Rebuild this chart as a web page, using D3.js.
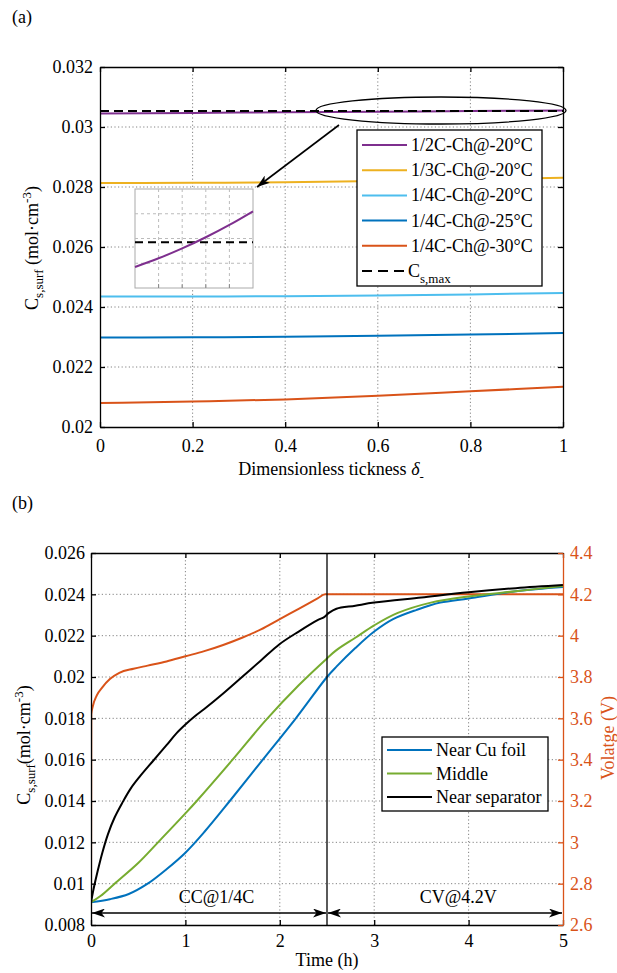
<!DOCTYPE html>
<html><head><meta charset="utf-8">
<script src="https://cdn.jsdelivr.net/npm/d3@7/dist/d3.min.js"></script>
<style>body{margin:0;background:#fff}svg{display:block}svg text{font-family:'Liberation Serif','DejaVu Serif',serif}</style>
</head><body><svg id="c" width="617" height="973" font-family="Liberation Serif, DejaVu Serif, serif"></svg>
<script>
// ---------- Panel (a) data ----------
const deltaX = [0, 0.2, 0.4, 0.6, 0.8, 1];
const half20 = [0.03045, 0.03047, 0.03049, 0.03051, 0.03053, 0.03055];
const third20 = [0.02813, 0.02814, 0.02816, 0.02820, 0.02825, 0.02831];
const quarter20 = [0.02435, 0.02435, 0.02436, 0.02438, 0.02442, 0.02447];
const quarter25 = [0.02298, 0.02299, 0.02301, 0.02304, 0.02308, 0.02313];
const quarter30 = [0.02080, 0.02085, 0.02092, 0.02104, 0.02119, 0.02134];
const csMax = 0.03053;
const seriesA = [
  {name: "1/2C-Ch@-20°C", color: "#7E2F8E", values: half20},
  {name: "1/3C-Ch@-20°C", color: "#EDB120", values: third20},
  {name: "1/4C-Ch@-20°C", color: "#4DBEEE", values: quarter20},
  {name: "1/4C-Ch@-25°C", color: "#0072BD", values: quarter25},
  {name: "1/4C-Ch@-30°C", color: "#D95319", values: quarter30}
];
const xTicksA = [0, 0.2, 0.4, 0.6, 0.8, 1];
const yTicksA = [0.02, 0.022, 0.024, 0.026, 0.028, 0.03, 0.032];
// inset (zoom near delta = 1)
const insetX = [0.95, 0.96, 0.97, 0.98, 0.99, 1.0];
const insetHalf20 = [0.030510, 0.030517, 0.030525, 0.030534, 0.030544, 0.030555];

// ---------- Panel (b) data ----------
const timeVolt = [0, 0.003, 0.02, 0.06, 0.12, 0.2, 0.3, 0.45, 0.6, 0.8, 1.0, 1.2, 1.4, 1.6, 1.8, 2.0, 2.2, 2.4, 2.48, 3.5, 5];
const voltage  = [2.6, 3.62, 3.66, 3.71, 3.75, 3.79, 3.82, 3.84, 3.855, 3.875, 3.9, 3.925, 3.955, 3.99, 4.03, 4.08, 4.13, 4.18, 4.2, 4.2, 4.2];
const timeCu = [0, 0.2, 0.4, 0.6, 0.8, 1.0, 1.2, 1.47, 1.82, 2.17, 2.5, 2.6, 2.8, 3.0, 3.2, 3.45, 3.7, 4.0, 4.5, 5.0];
const csCu   = [0.0091, 0.00925, 0.0095, 0.0100, 0.0107, 0.0115, 0.0125, 0.0140, 0.0160, 0.0180, 0.0200, 0.0205, 0.0214, 0.0222, 0.0228, 0.02325, 0.0236, 0.0238, 0.02415, 0.02435];
const timeMid = [0, 0.1, 0.25, 0.5, 0.71, 1.0, 1.12, 1.5, 1.85, 2.2, 2.5, 2.6, 2.8, 3.0, 3.25, 3.6, 4.0, 4.5, 5.0];
const csMid   = [0.0091, 0.0094, 0.0100, 0.0110, 0.0120, 0.0134, 0.0140, 0.0160, 0.0179, 0.0196, 0.0209, 0.0213, 0.0219, 0.0225, 0.0231, 0.0236, 0.0239, 0.02415, 0.0244];
const timeSep = [0, 0.03, 0.07, 0.12, 0.18, 0.25, 0.33, 0.42, 0.52, 0.65, 0.8, 0.9, 1.0, 1.1, 1.2, 1.4, 1.6, 1.8, 2.0, 2.2, 2.4, 2.47, 2.52, 2.6, 2.8, 3.0, 3.5, 4.0, 4.5, 5.0];
const csSep   = [0.0091, 0.0098, 0.0106, 0.0115, 0.0124, 0.0132, 0.0139, 0.0146, 0.0152, 0.0159, 0.0167, 0.01725, 0.0177, 0.01810, 0.01845, 0.0192, 0.0200, 0.0208, 0.0216, 0.0222, 0.02275, 0.02290, 0.0231, 0.0233, 0.02345, 0.0236, 0.02385, 0.0241, 0.0243, 0.02445];
const seriesB = [
  {name: "Near Cu foil", color: "#0072BD", t: timeCu, v: csCu},
  {name: "Middle", color: "#77AC30", t: timeMid, v: csMid},
  {name: "Near separator", color: "#000000", t: timeSep, v: csSep}
];
const ccEnd = 2.5;
const stageLabels = [{text: "CC@1/4C", t: 1.33, from: 0, to: 2.5}, {text: "CV@4.2V", t: 3.89, from: 2.5, to: 5}];
const xTicksB = [0, 1, 2, 3, 4, 5];
const yTicksB = [0.008, 0.01, 0.012, 0.014, 0.016, 0.018, 0.02, 0.022, 0.024, 0.026];
const vTicksB = [2.6, 2.8, 3, 3.2, 3.4, 3.6, 3.8, 4, 4.2, 4.4];

// ---------- drawing ----------
const svg = d3.select("#c");
const FS = 18;
const FF = "Liberation Serif, DejaVu Serif, serif";
const ORANGE = "#D95319";
const fmt3 = d => String(+d.toFixed(3));
const fmt1 = d => String(+d.toFixed(1));

const defs = svg.append("defs");
defs.append("marker").attr("id", "ah").attr("viewBox", "0 0 13 9").attr("refX", 13).attr("refY", 4.5)
  .attr("markerWidth", 13).attr("markerHeight", 9).attr("markerUnits", "userSpaceOnUse").attr("orient", "auto-start-reverse")
  .append("path").attr("d", "M0,0 L13,4.5 L0,9 L3.5,4.5 Z").attr("fill", "#000");
defs.append("clipPath").attr("id", "clipB").append("rect").attr("x", 91).attr("y", 553).attr("width", 472).attr("height", 372);
defs.append("clipPath").attr("id", "clipA").append("rect").attr("x", 100).attr("y", 67).attr("width", 463).attr("height", 360);

function styleAxis(g, color) {
  g.attr("font-family", FF).attr("font-size", FS);
  g.select(".domain").attr("stroke", color || "#000").attr("stroke-width", 1.3);
  g.selectAll(".tick line").attr("stroke", color || "#000").attr("stroke-width", 1.3);
  g.selectAll("text").attr("font-family", FF).attr("font-size", FS).attr("fill", color || "#000");
}

function grid(x, y, xt, yt, x0, x1, y0, y1) {
  const g = svg.append("g").attr("stroke", "#666").attr("stroke-width", 1).attr("stroke-dasharray", "1.2,2.4").attr("opacity", 0.8);
  g.selectAll(".gx").data(xt).join("line").attr("x1", d => x(d)).attr("x2", d => x(d)).attr("y1", y0).attr("y2", y1);
  g.selectAll(".gy").data(yt).join("line").attr("y1", d => y(d)).attr("y2", d => y(d)).attr("x1", x0).attr("x2", x1);
}
function txt(x, y, s, opts) {
  const t = svg.append("text").attr("x", x).attr("y", y).attr("font-family", FF).attr("font-size", FS).text(s);
  if (opts) Object.entries(opts).forEach(([k, v]) => t.attr(k, v));
  return t;
}

// ===== Panel A =====
const xA = d3.scaleLinear().domain([0, 1]).range([100, 563]);
const yA = d3.scaleLinear().domain([0.02, 0.032]).range([427, 67]);
txt(12, 23, "(a)");
grid(xA, yA, xTicksA.slice(1, -1), yTicksA.slice(1, -1), 100, 563, 67, 427);

const lineA = d3.line().x((d, i) => xA(deltaX[i])).y(d => yA(d)).curve(d3.curveMonotoneX);
const gA = svg.append("g").attr("clip-path", "url(#clipA)");
seriesA.forEach(s => gA.append("path").attr("d", lineA(s.values)).attr("fill", "none").attr("stroke", s.color).attr("stroke-width", 2));
gA.append("line").attr("x1", xA(0)).attr("x2", xA(1)).attr("y1", yA(csMax)).attr("y2", yA(csMax))
  .attr("stroke", "#000").attr("stroke-width", 2).attr("stroke-dasharray", "9,5");

styleAxis(svg.append("g").attr("transform", "translate(0,427)").call(d3.axisBottom(xA).tickValues(xTicksA).tickFormat(fmt3).tickSizeInner(-5).tickSizeOuter(0).tickPadding(12)));
styleAxis(svg.append("g").attr("transform", "translate(0,67)").call(d3.axisTop(xA).tickValues(xTicksA).tickFormat("").tickSizeInner(-5).tickSizeOuter(0)));
styleAxis(svg.append("g").attr("transform", "translate(100,0)").call(d3.axisLeft(yA).tickValues(yTicksA).tickFormat(fmt3).tickSizeInner(-5).tickSizeOuter(0).tickPadding(7)));
styleAxis(svg.append("g").attr("transform", "translate(563,0)").call(d3.axisRight(yA).tickValues(yTicksA).tickFormat("").tickSizeInner(-5).tickSizeOuter(0)));

// ellipse + arrow
svg.append("ellipse").attr("cx", 441).attr("cy", 110.5).attr("rx", 125).attr("ry", 13.5).attr("fill", "none").attr("stroke", "#000").attr("stroke-width", 1.3);
svg.append("line").attr("x1", 339).attr("y1", 125).attr("x2", 257).attr("y2", 187).attr("stroke", "#000").attr("stroke-width", 1.6).attr("marker-end", "url(#ah)");

// inset
const xI = d3.scaleLinear().domain([0.95, 1.0]).range([135, 253]);
const yI = d3.scaleLinear().domain([0.030493, 0.030573]).range([288, 189]);
svg.append("rect").attr("x", 135).attr("y", 189).attr("width", 118).attr("height", 99).attr("fill", "#fff").attr("stroke", "#aaa").attr("stroke-width", 1);
const gI = svg.append("g").attr("stroke", "#bbb").attr("stroke-width", 1).attr("stroke-dasharray", "3,3");
const ixg = insetX.slice(1, -1);
const iyg = [0.25, 0.5, 0.75].map(f => yI.invert(288 - 99 * f));
gI.selectAll(".a").data(ixg).join("line").attr("x1", d => xI(d)).attr("x2", d => xI(d)).attr("y1", 189).attr("y2", 288);
gI.selectAll(".b").data(iyg).join("line").attr("y1", d => yI(d)).attr("y2", d => yI(d)).attr("x1", 135).attr("x2", 253);
const gIt = svg.append("g").attr("stroke", "#888").attr("stroke-width", 1);
gIt.selectAll(".c").data(ixg).join("line").attr("x1", d => xI(d)).attr("x2", d => xI(d)).attr("y1", 284).attr("y2", 288);
svg.append("line").attr("x1", 135).attr("x2", 253).attr("y1", yI(csMax)).attr("y2", yI(csMax)).attr("stroke", "#000").attr("stroke-width", 2).attr("stroke-dasharray", "8,5");
svg.append("path").attr("d", d3.line().x((d, i) => xI(insetX[i])).y(d => yI(d)).curve(d3.curveMonotoneX)(insetHalf20))
  .attr("fill", "none").attr("stroke", "#7E2F8E").attr("stroke-width", 2);

// legend A
const lgA = svg.append("g");
lgA.append("rect").attr("x", 357).attr("y", 130).attr("width", 185).attr("height", 156).attr("fill", "#fff").attr("stroke", "#000").attr("stroke-width", 1.3);
seriesA.forEach((s, i) => {
  const yy = 145 + i * 25.2;
  lgA.append("line").attr("x1", 362).attr("x2", 407).attr("y1", yy).attr("y2", yy).attr("stroke", s.color).attr("stroke-width", 2);
  txt(411, yy + 6, s.name);
});
{
  const yy = 145 + 5 * 25.2;
  lgA.append("line").attr("x1", 362).attr("x2", 407).attr("y1", yy).attr("y2", yy).attr("stroke", "#000").attr("stroke-width", 2).attr("stroke-dasharray", "10,6");
  const t = txt(408, yy + 6, "");
  t.append("tspan").text("C");
  t.append("tspan").attr("dy", 6).attr("font-size", 13).text("s,max");
}

// axis labels A
{
  const t = svg.append("text").attr("transform", "translate(38,248) rotate(-90)").attr("text-anchor", "middle").attr("font-family", FF).attr("font-size", FS);
  t.append("tspan").text("C");
  t.append("tspan").attr("dy", 5).attr("font-size", 13).text("s,surf");
  t.append("tspan").attr("dy", -5).text(" (mol·cm");
  t.append("tspan").attr("dy", -7).attr("font-size", 13).text("-3");
  t.append("tspan").attr("dy", 7).text(")");
  const u = txt(331, 475, "", {"text-anchor": "middle"});
  u.append("tspan").text("Dimensionless tickness ");
  u.append("tspan").attr("font-style", "italic").text("δ");
  u.append("tspan").attr("dy", 6).attr("font-size", 13).text("-");
}

// ===== Panel B =====
const xB = d3.scaleLinear().domain([0, 5]).range([91, 563]);
const yB = d3.scaleLinear().domain([0.008, 0.026]).range([925, 553]);
const yV = d3.scaleLinear().domain([2.6, 4.4]).range([925, 553]);
txt(12, 509, "(b)");
grid(xB, yB, xTicksB.slice(1, -1), yTicksB.slice(1, -1), 91, 563, 553, 925);

const gB = svg.append("g").attr("clip-path", "url(#clipB)");
gB.append("path").attr("d", d3.line().x((d, i) => xB(timeVolt[i])).y(d => yV(d)).curve(d3.curveMonotoneX)(voltage))
  .attr("fill", "none").attr("stroke", ORANGE).attr("stroke-width", 2);
seriesB.forEach(s => {
  gB.append("path").attr("d", d3.line().x((d, i) => xB(s.t[i])).y(d => yB(d)).curve(d3.curveCatmullRom.alpha(0.5))(s.v))
    .attr("fill", "none").attr("stroke", s.color).attr("stroke-width", 2);
});
svg.append("line").attr("x1", xB(ccEnd)).attr("x2", xB(ccEnd)).attr("y1", 553).attr("y2", 925).attr("stroke", "#000").attr("stroke-width", 1.3);

styleAxis(svg.append("g").attr("transform", "translate(0,925)").call(d3.axisBottom(xB).tickValues(xTicksB).tickFormat(fmt3).tickSizeInner(-5).tickSizeOuter(0).tickPadding(9)));
styleAxis(svg.append("g").attr("transform", "translate(0,553)").call(d3.axisTop(xB).tickValues(xTicksB).tickFormat("").tickSizeInner(-5).tickSizeOuter(0)));
styleAxis(svg.append("g").attr("transform", "translate(91,0)").call(d3.axisLeft(yB).tickValues(yTicksB).tickFormat(fmt3).tickSizeInner(-5).tickSizeOuter(0).tickPadding(6)));
styleAxis(svg.append("g").attr("transform", "translate(563,0)").call(d3.axisRight(yV).tickValues(vTicksB).tickFormat(fmt1).tickSizeInner(-5).tickSizeOuter(0).tickPadding(7)), ORANGE);

// stage arrows
stageLabels.forEach(s => {
  svg.append("line").attr("x1", xB(s.from) + 1).attr("x2", xB(s.to) - 1).attr("y1", 913).attr("y2", 913)
    .attr("stroke", "#000").attr("stroke-width", 1.6).attr("marker-start", "url(#ah)").attr("marker-end", "url(#ah)");
  txt(xB(s.t), 903, s.text, {"text-anchor": "middle"});
});

// legend B
const lgB = svg.append("g");
lgB.append("rect").attr("x", 382).attr("y", 737).attr("width", 166).attr("height", 74).attr("fill", "#fff").attr("stroke", "#000").attr("stroke-width", 1.3);
seriesB.forEach((s, i) => {
  const yy = 750 + i * 23.5;
  lgB.append("line").attr("x1", 387).attr("x2", 432).attr("y1", yy).attr("y2", yy).attr("stroke", s.color).attr("stroke-width", 2);
  txt(436, yy + 6, s.name);
});

// axis labels B
{
  const t = svg.append("text").attr("transform", "translate(30,745) rotate(-90)").attr("text-anchor", "middle").attr("font-family", FF).attr("font-size", FS);
  t.append("tspan").text("C");
  t.append("tspan").attr("dy", 5).attr("font-size", 13).text("s,surf");
  t.append("tspan").attr("dy", -5).text("(mol·cm");
  t.append("tspan").attr("dy", -7).attr("font-size", 13).text("-3");
  t.append("tspan").attr("dy", 7).text(")");
  svg.append("text").attr("transform", "translate(614,738) rotate(-90)").attr("text-anchor", "middle").attr("font-family", FF).attr("font-size", FS).attr("fill", ORANGE).text("Volatge (V)");
  txt(327, 966, "Time (h)", {"text-anchor": "middle"});
}
</script></body></html>
